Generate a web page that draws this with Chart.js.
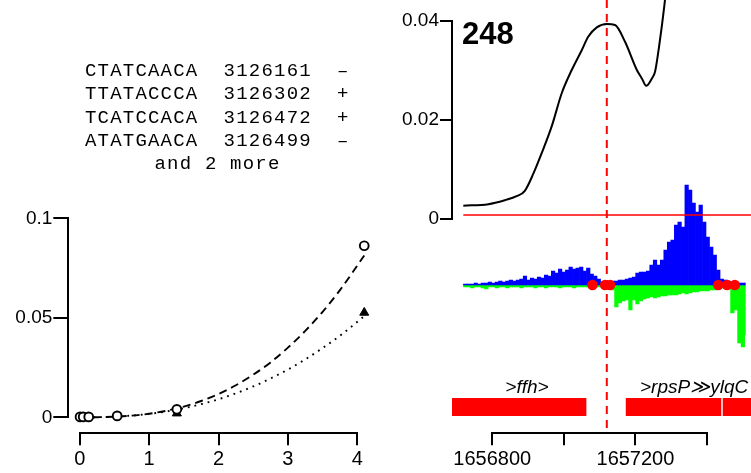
<!DOCTYPE html>
<html>
<head>
<meta charset="utf-8">
<script src="https://cdn.jsdelivr.net/npm/chart.js@4.4.1/dist/chart.umd.min.js"></script>
<style>
html,body{margin:0;padding:0;background:#fff;}
#wrap{position:relative;width:751px;height:473px;overflow:hidden;background:#fff;}
#wrap canvas{position:absolute;left:0;top:0;}
.t{position:absolute;white-space:pre;color:#000;}
.mono{font-family:"Liberation Mono","Courier New",monospace;font-size:19px;letter-spacing:1.2px;line-height:23.1px;}
.sans{font-family:"Liberation Sans",Arial,Helvetica,sans-serif;}
</style>
</head>
<body>
<div id="wrap">
  <canvas id="l1" width="751" height="473"></canvas>
  <canvas id="l2" width="751" height="473"></canvas>
  <canvas id="r2" width="751" height="473"></canvas>
  <canvas id="r3" width="751" height="473"></canvas>
  <canvas id="r4" width="751" height="473"></canvas>
  <canvas id="r1" width="751" height="473"></canvas>
  <div class="t mono" id="motifs" style="left:85px;top:60.4px;"></div>
  <div class="t mono" id="more" style="left:85px;top:152.8px;width:265px;text-align:center;"></div>
  <div class="t sans" id="panel" style="left:462px;top:18.3px;font-size:31px;line-height:31px;font-weight:bold;"></div>
  <div class="t sans" id="gene1" style="left:477px;top:376.5px;width:100px;text-align:center;font-size:19px;line-height:19px;font-style:italic;"></div>
  <div class="t sans" id="gene2" style="left:640px;top:376.5px;font-size:19px;line-height:19px;font-style:italic;"></div>
</div>
<script>
// ---------- Left panel data ----------
const circleX = [0.005, 0.05, 0.13, 0.54, 1.4, 4.1];
const circleY = [0.0002, 0.0002, 0.0002, 0.0007, 0.0040, 0.0862];
const triX = [1.4, 4.1];
const triY = [0.0020, 0.0526];
const fitX = [0, 0.25, 0.5, 0.75, 1, 1.25, 1.5, 1.75, 2, 2.25, 2.5, 2.75, 3, 3.25, 3.5, 3.75, 4.1];
const fitDashedY = [0, 0.00004, 0.00028, 0.00083, 0.0018, 0.0033, 0.0054, 0.0082, 0.0117, 0.0161, 0.0214, 0.0276, 0.035, 0.0434, 0.053, 0.0639, 0.0813];
const fitDottedY = [0, 0.00006, 0.00033, 0.00086, 0.00172, 0.00294, 0.00455, 0.00659, 0.00908, 0.01204, 0.0155, 0.0195, 0.024, 0.0291, 0.0348, 0.041, 0.0508];
const leftXTicks = [0, 1, 2, 3, 4];
const leftXTickLabels = ['0', '1', '2', '3', '4'];
const leftYTicks = [0, 0.05, 0.1];
const leftYTickLabels = ['0', '0.05', '0.1'];

// ---------- Motif text ----------
const motifSeqs = ['CTATCAACA', 'TTATACCCA', 'TCATCCACA', 'ATATGAACA'];
const motifPos = ['3126161', '3126302', '3126472', '3126499'];
const motifStrand = ['\u2013', '+', '+', '\u2013'];
const motifMore = 'and 2 more';

// ---------- Right panel data ----------
const panelLabel = '248';
const curveX = [1656719, 1656789, 1656835, 1656868, 1656891, 1656915, 1656938, 1656966, 1656994, 1657022, 1657050, 1657068, 1657092, 1657120, 1657143, 1657171, 1657204, 1657218, 1657230, 1657246, 1657255, 1657266, 1657281, 1657285];
const curveY = [0.0027, 0.0030, 0.0038, 0.0046, 0.0057, 0.0092, 0.0133, 0.0187, 0.0254, 0.0301, 0.0341, 0.0368, 0.0387, 0.0394, 0.0392, 0.0358, 0.0301, 0.0284, 0.0269, 0.0284, 0.0298, 0.0348, 0.0432, 0.0460];
const thresholdX = [1656719, 1657530];
const thresholdY = [0.0008, 0.0008];
const siteX = 1657120;
const siteSpanY = [0.04424, -0.04303];
const dotX = [1657087, 1657123, 1657137, 1657445, 1657470, 1657492];
const histStart = 1656725, histStep = 10;
const histPlus = [1,1,1,2,1,2,2,3,2,3, 4,3,4,5,4,5,6,9,5,7, 6,8,7,10,9,14,12,16,13,15, 18,16,17,18,14,17,11,9,6,3,
  3,3,4,4,5,5,6,7,8,12, 13,13,14,20,25,20,25,35,43,45, 60,63,58,100,95,82,73,80,63,48, 38,30,15,6,5,4,3,2,2,2, 2];
const histMinus = [2,2,3,2,2,3,4,2,2,3, 2,2,3,2,2,2,3,2,2,2, 3,2,2,3,2,2,2,3,2,2, 2,3,2,2,2,2,2,2,2,2,
  2,3,5,22,18,16,15,25,15,19, 16,14,13,12,13,12,11,11,10,10, 10,9,8,9,8,7,7,6,6,6, 5,5,4,3,3,3,28,25,58,62, 50];
const geneNames = ['ffh', 'rpsP', 'ylqC'];
const geneStart = [1656600, 1657174, 1657445];
const geneEnd = [1657062, 1657439, 1657700];
const geneLabels = ['>ffh>', '>rpsP\u226BylqC'];
const rightXTicks = [1656800, 1657000, 1657200, 1657400];
const rightXTickLabels = ['1656800', '', '1657200', ''];
const rightYTicks = [0, 0.02, 0.04];
const rightYTickLabels = ['0', '0.02', '0.04'];

// ---------- text ----------
document.getElementById('motifs').textContent = motifSeqs.map((s, i) => s + '  ' + motifPos[i] + '  ' + motifStrand[i]).join('\n');
document.getElementById('more').textContent = motifMore;
document.getElementById('panel').textContent = panelLabel;
document.getElementById('gene1').textContent = geneLabels[0];
document.getElementById('gene2').textContent = geneLabels[1];

// ---------- defaults ----------
const FONT = '"Liberation Sans", Arial, Helvetica, sans-serif';
Chart.defaults.font.family = FONT;
Chart.defaults.color = '#000';
Chart.defaults.animation = false;
Chart.defaults.responsive = false;
Chart.defaults.events = [];
Chart.defaults.plugins.legend.display = false;
Chart.defaults.plugins.tooltip.enabled = false;

const W = 751, H = 473;
const R_MIN = 1656687.4, R_MAX = 1657523.0;
const L_PX0 = 79.7, L_PXU = 69.4;        // left panel: pixel of x=0 and pixels per unit
const L_DATA_MAX = 4.3;                  // hidden data scale extends past last tick so end points draw
const axisLine = {color: '#000', width: 2};
const tickGrid = (len) => ({drawOnChartArea: false, color: '#000', lineWidth: 2, tickLength: len});

// ---------- L1: scatter with fitted curves and y axis ----------
new Chart(document.getElementById('l1'), {
  type: 'scatter',
  data: {datasets: [
    {data: circleX.map((x, i) => ({x, y: circleY[i]})), pointStyle: 'circle', pointRadius: 4.4, borderWidth: 1.9,
     borderColor: '#000', backgroundColor: '#fff', clip: false},
    {data: triX.map((x, i) => ({x, y: triY[i]})), pointStyle: 'triangle', pointRadius: 5.2, borderWidth: 1,
     borderColor: '#000', backgroundColor: '#000', clip: false},
    {type: 'line', data: fitX.map((x, i) => ({x, y: fitDashedY[i]})), borderColor: '#000', borderWidth: 1.9,
     borderDash: [8, 5], pointRadius: 0, fill: false, clip: false, cubicInterpolationMode: 'monotone'},
    {type: 'line', data: fitX.map((x, i) => ({x, y: fitDottedY[i]})), borderColor: '#000', borderWidth: 1.9,
     borderDash: [1.8, 5], pointRadius: 0, fill: false, clip: false, cubicInterpolationMode: 'monotone'}
  ]},
  options: {
    layout: {padding: {left: 0, right: W - (L_PX0 + L_DATA_MAX * L_PXU), top: 218.3, bottom: H - 417.3}},
    scales: {
      x: {type: 'linear', display: false, min: -(L_PX0 - 68.3) / L_PXU, max: L_DATA_MAX},
      y: {type: 'linear', position: 'left', min: 0, max: 0.1,
          afterFit: s => { s.width = 68.3; },
          afterBuildTicks: s => { s.ticks = leftYTicks.map(v => ({value: v})); },
          ticks: {callback: (v, i) => leftYTickLabels[i], font: {size: 19}, color: '#000', padding: 1},
          grid: tickGrid(15), border: axisLine}
    }
  }
});

// ---------- L2: x axis of the left panel ----------
new Chart(document.getElementById('l2'), {
  type: 'scatter',
  data: {datasets: []},
  options: {
    layout: {padding: {left: L_PX0, right: W - (L_PX0 + 4 * L_PXU), top: 300, bottom: 0}},
    scales: {
      x: {type: 'linear', position: 'bottom', min: 0, max: 4,
          afterFit: s => { s.height = H - 433.3; },
          afterBuildTicks: s => { s.ticks = leftXTicks.map(v => ({value: v})); },
          ticks: {callback: (v, i) => leftXTickLabels[i], font: {size: 20}, color: '#000', padding: 2, autoSkip: false, maxRotation: 0},
          grid: tickGrid(12), border: axisLine},
      y: {display: false, min: 0, max: 1}
    }
  }
});

// ---------- R1: profile curve, threshold, site line, y axis ----------
new Chart(document.getElementById('r1'), {
  type: 'line',
  data: {datasets: [
    {data: siteSpanY.map(y => ({x: siteX, y})), borderColor: '#ff0000', borderWidth: 2, borderDash: [8, 6],
     pointRadius: 0, clip: false},
    {data: curveX.map((x, i) => ({x, y: curveY[i]})), borderColor: '#000', borderWidth: 2, pointRadius: 0,
     clip: false, cubicInterpolationMode: 'monotone'},
    {data: thresholdX.map((x, i) => ({x, y: thresholdY[i]})), borderColor: '#ff0000', borderWidth: 1.6, pointRadius: 0, clip: false}
  ]},
  options: {
    layout: {padding: {left: 0, right: 0, top: 21, bottom: H - 219}},
    scales: {
      x: {type: 'linear', display: false, min: R_MIN, max: R_MAX},
      y: {type: 'linear', position: 'left', min: 0, max: 0.04,
          afterFit: s => { s.width = 452; },
          afterBuildTicks: s => { s.ticks = rightYTicks.map(v => ({value: v})); },
          ticks: {callback: (v, i) => rightYTickLabels[i], font: {size: 19}, color: '#000', padding: 1},
          grid: tickGrid(12), border: axisLine}
    }
  }
});

// ---------- R2: strand histogram and site dots ----------
const histPts = (arr, sign) => arr.map((v, i) => ({x: histStart + histStep * i, y: sign * v}));
new Chart(document.getElementById('r2'), {
  type: 'bar',
  data: {datasets: [
    {type: 'scatter', data: dotX.map(x => ({x, y: 0})), pointRadius: 5.3, backgroundColor: '#ff0000',
     borderColor: '#ff0000', borderWidth: 0, clip: false},
    {data: histPts(histPlus, 1), backgroundColor: '#0000ff', grouped: false, barPercentage: 1, categoryPercentage: 1, borderWidth: 0},
    {data: histPts(histMinus, -1), backgroundColor: '#00ff00', grouped: false, barPercentage: 1, categoryPercentage: 1, borderWidth: 0}
  ]},
  options: {
    layout: {padding: {left: 452, right: 0, top: 170, bottom: 43}},
    scales: {
      x: {type: 'linear', display: false, min: R_MIN, max: R_MAX, offset: false},
      y: {type: 'linear', display: false, min: -145, max: 115}
    }
  }
});

// ---------- R3: gene bars ----------
new Chart(document.getElementById('r3'), {
  type: 'bar',
  data: {labels: ['genes'], datasets: geneNames.map((g, i) => ({
    label: g, data: [[geneStart[i], geneEnd[i]]], backgroundColor: '#ff0000', borderWidth: 0,
    grouped: false, barPercentage: 1, categoryPercentage: 1}))},
  options: {
    indexAxis: 'y',
    layout: {padding: {left: 452, right: 0, top: 398, bottom: H - 416}},
    scales: {
      x: {type: 'linear', display: false, min: R_MIN, max: R_MAX},
      y: {display: false}
    }
  }
});

// ---------- R4: genomic x axis ----------
new Chart(document.getElementById('r4'), {
  type: 'scatter',
  data: {datasets: []},
  options: {
    layout: {padding: {left: 492.3, right: W - 707, top: 300, bottom: 0}},
    scales: {
      x: {type: 'linear', position: 'bottom', min: rightXTicks[0], max: rightXTicks[rightXTicks.length - 1],
          afterFit: s => { s.height = H - 433.3; },
          afterBuildTicks: s => { s.ticks = rightXTicks.map(v => ({value: v})); },
          ticks: {callback: (v, i) => rightXTickLabels[i], font: {size: 20}, color: '#000', padding: 2, autoSkip: false, maxRotation: 0},
          grid: tickGrid(12), border: axisLine},
      y: {display: false, min: 0, max: 1}
    }
  }
});
</script>
</body>
</html>
